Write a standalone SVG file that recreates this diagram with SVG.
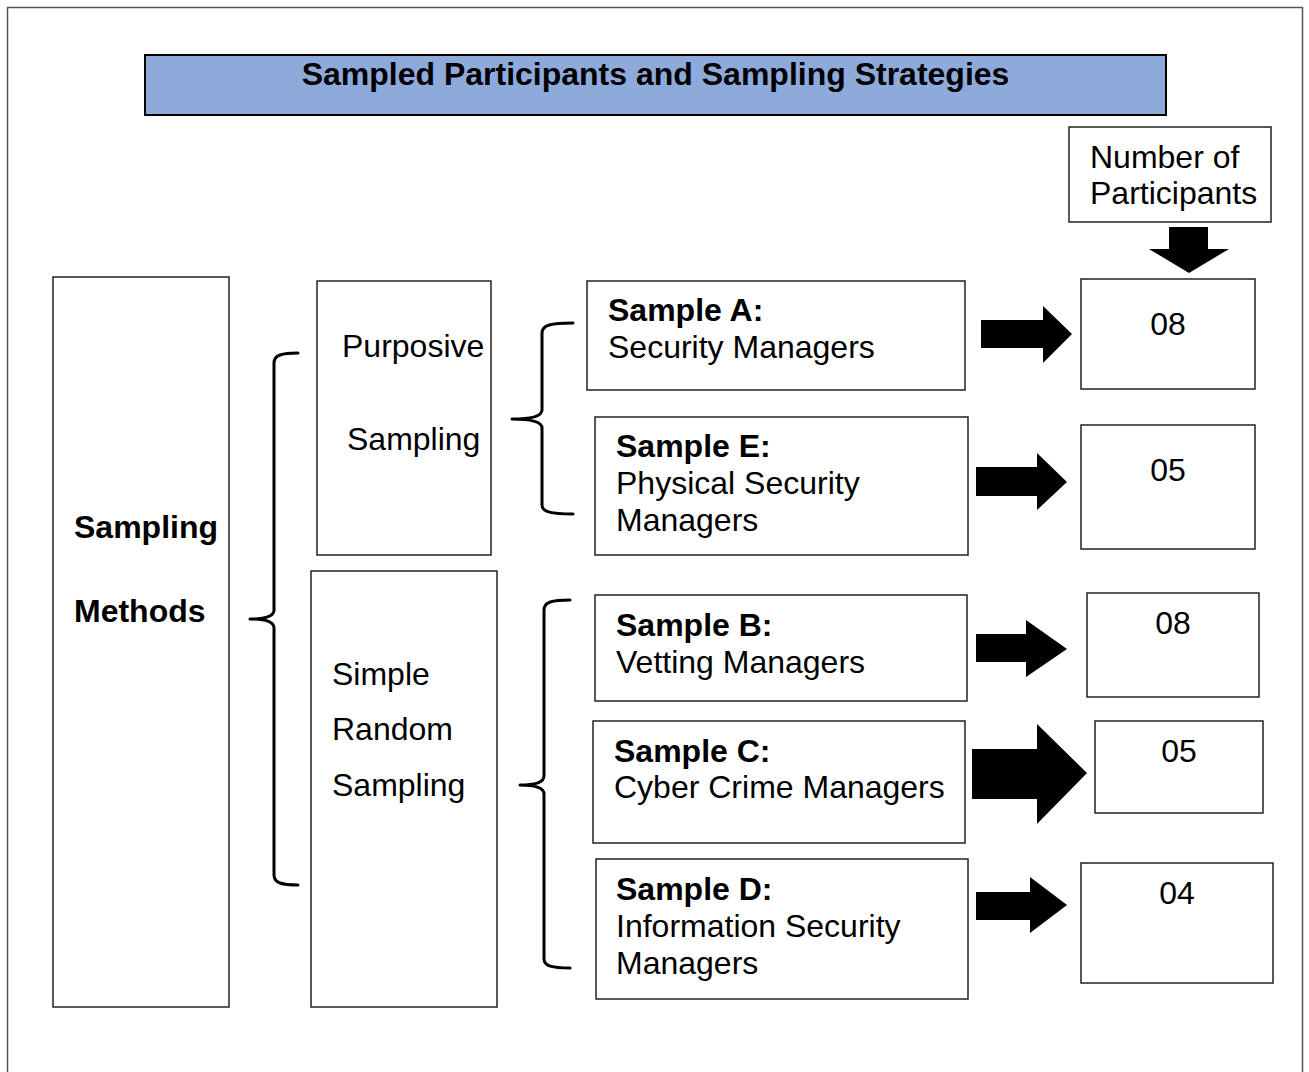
<svg xmlns="http://www.w3.org/2000/svg" width="1309" height="1072" viewBox="0 0 1309 1072">
<style>
.box{fill:#fff;stroke:#222;stroke-width:1.5}
.t{font-family:"Liberation Sans",Arial,sans-serif;font-size:32px;fill:#000}
.b{font-weight:bold}
.num{text-anchor:middle}
.brace{fill:none;stroke:#000;stroke-width:3;stroke-linecap:round;stroke-linejoin:round}
.arr{fill:#000}
</style>
<rect x="0" y="0" width="1309" height="1072" fill="#fff"/>
<rect x="7.5" y="7.5" width="1295" height="1100" fill="none" stroke="#555" stroke-width="1.5"/>

<g id="title">
<rect x="145" y="55" width="1021" height="60" fill="#8eaadb" stroke="#000" stroke-width="2"/>
<text class="t b" x="655.5" y="85" text-anchor="middle" font-size="32.5">Sampled Participants and Sampling Strategies</text>
</g>

<g id="number-header">
<rect class="box" x="1069" y="127" width="202" height="95"/>
<text class="t" x="1090" y="168">Number of</text>
<text class="t" x="1090" y="204">Participants</text>
</g>

<g id="sampling-methods">
<rect class="box" x="53" y="277" width="176" height="730"/>
<text class="t b" x="74" y="538">Sampling</text>
<text class="t b" x="74" y="622">Methods</text>
</g>

<g id="purposive">
<rect class="box" x="317" y="281" width="174" height="274"/>
<text class="t" x="342" y="357">Purposive</text>
<text class="t" x="347" y="450">Sampling</text>
</g>

<g id="simple-random">
<rect class="box" x="311" y="571" width="186" height="436"/>
<text class="t" x="332" y="685">Simple</text>
<text class="t" x="332" y="740">Random</text>
<text class="t" x="332" y="796">Sampling</text>
</g>

<g id="sample-a">
<rect class="box" x="587" y="281" width="378" height="109"/>
<text class="t b" x="608" y="321">Sample A:</text>
<text class="t" x="608" y="358">Security Managers</text>
</g>
<g id="sample-e">
<rect class="box" x="595" y="417" width="373" height="138"/>
<text class="t b" x="616" y="457">Sample E:</text>
<text class="t" x="616" y="494">Physical Security</text>
<text class="t" x="616" y="531">Managers</text>
</g>
<g id="sample-b">
<rect class="box" x="595" y="595" width="372" height="106"/>
<text class="t b" x="616" y="636">Sample B:</text>
<text class="t" x="616" y="673">Vetting Managers</text>
</g>
<g id="sample-c">
<rect class="box" x="593" y="721" width="372" height="122"/>
<text class="t b" x="614" y="762">Sample C:</text>
<text class="t" x="614" y="798">Cyber Crime Managers</text>
</g>
<g id="sample-d">
<rect class="box" x="596" y="859" width="372" height="140"/>
<text class="t b" x="616" y="900">Sample D:</text>
<text class="t" x="616" y="937">Information Security</text>
<text class="t" x="616" y="974">Managers</text>
</g>

<g id="count-a">
<rect class="box" x="1081" y="279" width="174" height="110"/>
<text class="t num" x="1168" y="335">08</text>
</g>
<g id="count-e">
<rect class="box" x="1081" y="425" width="174" height="124"/>
<text class="t num" x="1168" y="481">05</text>
</g>
<g id="count-b">
<rect class="box" x="1087" y="593" width="172" height="104"/>
<text class="t num" x="1173" y="634">08</text>
</g>
<g id="count-c">
<rect class="box" x="1095" y="721" width="168" height="92"/>
<text class="t num" x="1179" y="762">05</text>
</g>
<g id="count-d">
<rect class="box" x="1081" y="863" width="192" height="120"/>
<text class="t num" x="1177" y="904">04</text>
</g>

<g id="connectors">
<path class="brace" d="M298,353 C282,353 274,355 274,363 L274,610 C274,616 266,619 250,619 C266,619 274,622 274,628 L274,875 C274,883 282,885 298,885"/>
<path class="brace" d="M573,323 C551,323 542,325 542,333 L542,410 C542,416 533,419 512,419 C533,419 542,422 542,428 L542,505 C542,512 551,514 573,514"/>
<path class="brace" d="M570,600 C552,600 544,602 544,610 L544,776 C544,782 536,785 520,785 C536,785 544,788 544,794 L544,959 C544,966 552,968 570,968"/>
<polygon class="arr" points="1169,227 1208,227 1208,249 1229,249 1189,273 1149,249 1169,249"/>
<polygon class="arr" points="981,320 1043,320 1043,306 1072,334 1043,363 1043,348 981,348"/>
<polygon class="arr" points="976,467 1037,467 1037,453 1067,482 1037,510 1037,496 976,496"/>
<polygon class="arr" points="976,634 1026,634 1026,620 1067,649 1026,677 1026,662 976,662"/>
<polygon class="arr" points="972,749 1037,749 1037,724 1087,773 1037,824 1037,799 972,799"/>
<polygon class="arr" points="976,892 1030,892 1030,877 1067,905 1030,933 1030,920 976,920"/>
</g>
</svg>
